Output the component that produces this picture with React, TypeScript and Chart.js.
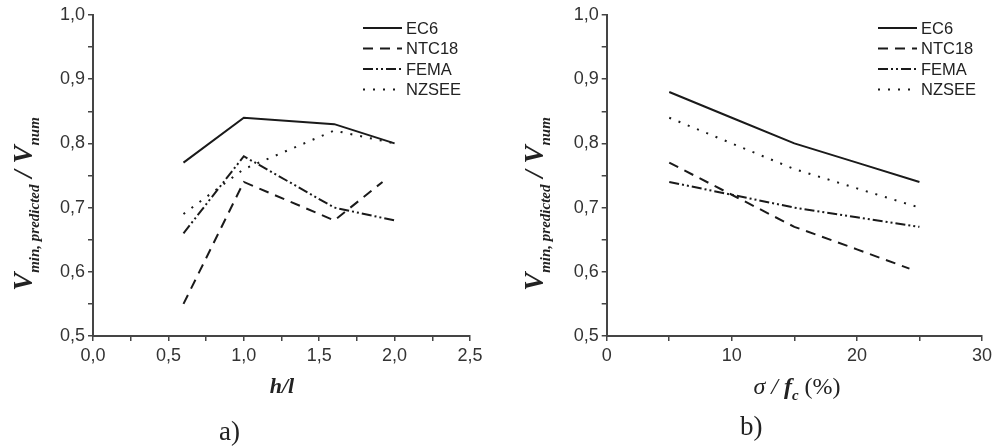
import React, { useEffect, useRef } from "react";
import { Chart, registerables } from "chart.js";

Chart.register(...registerables);

// ---------- data ----------
const seriesNames = ["EC6", "NTC18", "FEMA", "NZSEE"];

// panel a) : h/l
const hlX = [0.6, 1.0, 1.6, 2.0];
const hlXNTC18 = [0.6, 1.0, 1.6, 1.92];
const hlEC6 = [0.77, 0.84, 0.83, 0.8];
const hlNTC18 = [0.55, 0.74, 0.68, 0.74];
const hlFEMA = [0.66, 0.78, 0.7, 0.68];
const hlNZSEE = [0.69, 0.76, 0.82, 0.8];

// panel b) : sigma / fc (%)
const sfX = [5, 10, 15, 20, 25];
const sfXNTC18 = [5, 10, 15, 20, 24.2];
const sfEC6 = [0.88, 0.84, 0.8, 0.77, 0.74];
const sfNTC18 = [0.77, 0.72, 0.67, 0.635, 0.605];
const sfFEMA = [0.74, 0.72, 0.7, 0.685, 0.67];
const sfNZSEE = [0.84, 0.8, 0.76, 0.73, 0.7];

const yMin = 0.5;
const yMax = 1.0;

// ---------- styles ----------
const LINE = "#1a1a1a";
const AXIS = "#454545";
const TEXT = "#222";
const dashes: number[][] = [[], [10, 7], [10, 3, 2, 3, 2, 3], [2, 8]];
const SANS = '"Liberation Sans", Arial, sans-serif';
const SERIF = '"Liberation Serif", "Times New Roman", serif';

type Part = { t: string; f: string; dy: number };

function drawParts(ctx: CanvasRenderingContext2D, parts: Part[], cx: number, by: number) {
  let total = 0;
  for (const p of parts) {
    ctx.font = p.f;
    total += ctx.measureText(p.t).width;
  }
  let x = cx - total / 2;
  ctx.textAlign = "left";
  ctx.textBaseline = "alphabetic";
  for (const p of parts) {
    ctx.font = p.f;
    ctx.fillText(p.t, x, by + p.dy);
    x += ctx.measureText(p.t).width;
  }
}

function drawYTitle(ctx: CanvasRenderingContext2D, bx: number, cy: number) {
  ctx.save();
  ctx.translate(bx, cy);
  ctx.rotate(-Math.PI / 2);
  ctx.fillStyle = TEXT;
  const big = `bold italic 27px ${SERIF}`;
  const sub = `bold italic 15px ${SERIF}`;
  drawParts(
    ctx,
    [
      { t: "V", f: big, dy: 0 },
      { t: "min, predicted", f: sub, dy: 7 },
      { t: " / ", f: big, dy: 0 },
      { t: "V", f: big, dy: 0 },
      { t: "num", f: sub, dy: 7 },
    ],
    0,
    0
  );
  ctx.restore();
}

type PanelCfg = {
  xs: number[][];
  ys: number[][];
  xMin: number;
  xMax: number;
  xStep: number;
  xMajor: number;
  xDecimals: number;
  padRight: number;
  yAxisWidth: number;
  yTitleX: number;
  legendX: number;
  xTitle: (ctx: CanvasRenderingContext2D) => void;
  tag: string;
  tagX: number;
  tagY: number;
};

function fmt(v: number, dec: number) {
  return v.toFixed(dec).replace(".", ",");
}

function Panel({ cfg, left }: { cfg: PanelCfg; left: number }) {
  const ref = useRef<HTMLCanvasElement>(null);
  useEffect(() => {
    const canvas = ref.current!;
    const decor = {
      id: "decor",
      afterDraw(chart: any) {
        const ctx: CanvasRenderingContext2D = chart.ctx;
        ctx.save();
        drawYTitle(ctx, cfg.yTitleX, 204);
        ctx.fillStyle = TEXT;
        cfg.xTitle(ctx);
        ctx.font = `27px ${SERIF}`;
        ctx.textAlign = "left";
        ctx.textBaseline = "alphabetic";
        ctx.fillText(cfg.tag, cfg.tagX, cfg.tagY);
        const rows = [28, 48.5, 69, 89.5];
        seriesNames.forEach((name, i) => {
          ctx.save();
          ctx.strokeStyle = LINE;
          ctx.lineWidth = 2;
          ctx.setLineDash(dashes[i]);
          ctx.beginPath();
          ctx.moveTo(cfg.legendX, rows[i]);
          ctx.lineTo(cfg.legendX + 39, rows[i]);
          ctx.stroke();
          ctx.restore();
          ctx.fillStyle = TEXT;
          ctx.font = `16.5px ${SANS}`;
          ctx.textAlign = "left";
          ctx.textBaseline = "middle";
          ctx.fillText(name, cfg.legendX + 43, rows[i] + 1);
        });
        ctx.restore();
      },
    };
    const chart = new Chart(canvas, {
      type: "line",
      data: {
        datasets: seriesNames.map((name, i) => ({
          label: name,
          data: cfg.xs[i].map((x, j) => ({ x, y: cfg.ys[i][j] })),
          borderColor: LINE,
          backgroundColor: LINE,
          borderWidth: 2,
          borderDash: dashes[i],
          borderCapStyle: "butt",
          pointRadius: 0,
          tension: 0,
          fill: false,
        })),
      },
      options: {
        animation: false,
        responsive: false,
        devicePixelRatio: 1,
        layout: { padding: { left: 0, top: 15, right: cfg.padRight, bottom: 81 } },
        plugins: { legend: { display: false }, tooltip: { enabled: false } },
        scales: {
          x: {
            type: "linear",
            min: cfg.xMin,
            max: cfg.xMax,
            afterFit: (s: any) => {
              s.height = 30;
            },
            ticks: {
              stepSize: cfg.xStep,
              autoSkip: false,
              maxRotation: 0,
              padding: 4,
              color: "#333",
              font: { family: SANS, size: 18 },
              callback: (v: any) => {
                const n = Number(v);
                const r = Math.round((n / cfg.xMajor) * 1000) / 1000;
                return Number.isInteger(r) ? fmt(n, cfg.xDecimals) : "";
              },
            },
            grid: { display: true, drawOnChartArea: false, drawTicks: true, tickLength: 5, color: AXIS, lineWidth: 1.5 },
            border: { display: true, color: AXIS, width: 2 },
          },
          y: {
            type: "linear",
            min: yMin,
            max: yMax,
            afterFit: (s: any) => {
              s.width = cfg.yAxisWidth;
            },
            ticks: {
              stepSize: 0.05,
              autoSkip: false,
              padding: 3,
              color: "#333",
              font: { family: SANS, size: 18 },
              callback: (v: any) => {
                const r = Math.round(Number(v) * 100);
                return r % 10 === 0 ? fmt(r / 100, 1) : "";
              },
            },
            grid: { display: true, drawOnChartArea: false, drawTicks: true, tickLength: 5, color: AXIS, lineWidth: 1.5 },
            border: { display: true, color: AXIS, width: 2 },
          },
        },
      },
      plugins: [decor],
    } as any);
    return () => chart.destroy();
  }, []);
  return (
    <canvas
      ref={ref}
      width={498}
      height={447}
      style={{ position: "absolute", left, top: 0, width: 498, height: 447 }}
    />
  );
}

const panelA: PanelCfg = {
  xs: [hlX, hlXNTC18, hlX, hlX],
  ys: [hlEC6, hlNTC18, hlFEMA, hlNZSEE],
  xMin: 0,
  xMax: 2.5,
  xStep: 0.25,
  xMajor: 0.5,
  xDecimals: 1,
  padRight: 28,
  yAxisWidth: 93,
  yTitleX: 32,
  legendX: 363,
  tag: "a)",
  tagX: 219,
  tagY: 440,
  xTitle: (ctx) => {
    ctx.font = `bold italic 22px ${SERIF}`;
    ctx.textAlign = "center";
    ctx.textBaseline = "alphabetic";
    ctx.fillText("h/l", 282, 393);
  },
};

const panelB: PanelCfg = {
  xs: [sfX, sfXNTC18, sfX, sfX],
  ys: [sfEC6, sfNTC18, sfFEMA, sfNZSEE],
  xMin: 0,
  xMax: 30,
  xStep: 5,
  xMajor: 10,
  xDecimals: 0,
  padRight: 10.7,
  yAxisWidth: 108.7,
  yTitleX: 45,
  legendX: 380,
  tag: "b)",
  tagX: 242,
  tagY: 435,
  xTitle: (ctx) => {
    drawParts(
      ctx,
      [
        { t: "σ", f: `italic 24px ${SERIF}`, dy: 0 },
        { t: " / ", f: `italic 24px ${SERIF}`, dy: 0 },
        { t: "f", f: `bold italic 24px ${SERIF}`, dy: 0 },
        { t: "c", f: `bold italic 15px ${SERIF}`, dy: 6 },
        { t: " (%)", f: `24px ${SERIF}`, dy: 0 },
      ],
      299,
      394
    );
  },
};

export default function App() {
  return (
    <div style={{ position: "absolute", left: 0, top: 0, width: 996, height: 447, background: "#fff" }}>
      <Panel cfg={panelA} left={0} />
      <Panel cfg={panelB} left={498} />
    </div>
  );
}
